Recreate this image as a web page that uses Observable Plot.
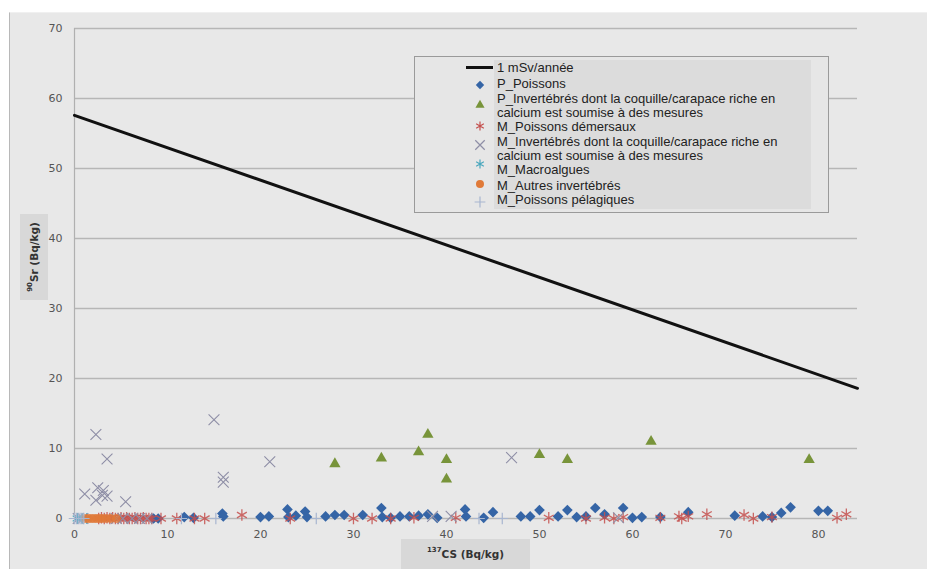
<!DOCTYPE html>
<html><head><meta charset="utf-8">
<script src="https://cdn.jsdelivr.net/npm/d3@7"></script>
<script src="https://cdn.jsdelivr.net/npm/@observablehq/plot@0.6"></script>
<style>
html,body{margin:0;padding:0;background:#fff;width:927px;height:569px;overflow:hidden;font-family:"DejaVu Sans",sans-serif}
#bg{position:absolute;left:9px;top:12px;width:918px;height:557px;background:#e8e8e8;border-left:1px solid #b8b8b8;border-top:1px solid #f0f0f0}
#chart{position:absolute;left:0;top:0}
.lab{position:absolute;background:#d8d8d8;color:#333;font-weight:bold;font-size:10.5px;display:flex;align-items:center;justify-content:center}
.lab sup{font-size:7px;vertical-align:top;position:relative;top:-2px}
#ylab{left:20px;top:214px;width:28px;height:86px}
#ylab span{transform:rotate(-90deg);white-space:nowrap;display:block}
#xlab{left:401px;top:539px;width:129px;height:30px}
#legend{position:absolute;left:414px;top:56px;width:413px;height:155px;background:#e6e6e6;border:1px solid #9a9a9a}
#legend .txtbg{position:absolute;left:79px;top:3px;width:317px;height:149px;background:#dcdcdc}
#legend .t{position:absolute;left:82px;font-family:"Liberation Sans",Arial,sans-serif;font-size:13px;color:#222;white-space:nowrap;line-height:14px}
#legsym{position:absolute;left:0;top:0}
</style></head>
<body>
<div id="bg"></div>
<div id="chart"></div>
<div class="lab" id="ylab"><span><sup>90</sup>Sr (Bq/kg)</span></div>
<div class="lab" id="xlab"><span><sup>137</sup>CS (Bq/kg)</span></div>
<div id="legend"><div class="txtbg"></div><svg id="legsym" width="413" height="155"></svg></div>
<script>
// ---- data ----
const xTicks = [0, 10, 20, 30, 40, 50, 60, 70, 80];
const yTicks = [0, 10, 20, 30, 40, 50, 60, 70];

const limitX = [0, 84.2];
const limitY = [57.6, 18.6];

const pPoissonsX = [8.5, 9.0, 11.8, 12.8, 15.9, 16.0, 20, 20.9, 22.9, 23.0, 23.8, 24.8, 25.0, 27, 28, 29, 31, 33, 33.1, 34, 35, 36, 37, 38, 39, 42, 42.1, 44, 45, 48, 49, 50, 52, 53, 54, 55, 56, 57, 59, 60, 61, 63, 66, 71, 74, 75, 76, 77, 80, 81];
const pPoissonsY = [0, 0, 0.2, 0.1, 0.7, 0.3, 0.2, 0.3, 1.3, 0.2, 0.4, 1.0, 0.2, 0.3, 0.5, 0.5, 0.5, 1.5, 0.2, 0.1, 0.3, 0.3, 0.4, 0.6, 0.1, 1.3, 0.3, 0.1, 0.9, 0.3, 0.3, 1.2, 0.3, 1.2, 0.2, 0.3, 1.5, 0.6, 1.5, 0.1, 0.2, 0.2, 0.9, 0.4, 0.3, 0.2, 0.8, 1.6, 1.1, 1.1];

const pInvertX = [28, 33, 37, 38, 40, 40, 50, 53, 62, 79];
const pInvertY = [7.8, 8.6, 9.5, 12.0, 8.4, 5.6, 9.1, 8.4, 11.0, 8.4];

const mDemersauxX = [2.6, 2.9, 3.2, 3.5, 3.8, 4.1, 4.4, 4.7, 5.0, 5.3, 5.6, 5.9, 6.2, 6.5, 6.8, 7.1, 7.4, 7.7, 8.0, 8.3, 9.3, 11, 12.9, 14, 18, 23.2, 30, 32, 34, 36.5, 41, 51, 55, 57, 58, 59, 63, 65, 65.3, 66, 68, 72, 73, 75, 82, 83];
const mDemersauxY = [0, 0.1, 0, 0.1, 0, 0.1, 0, 0, 0.1, 0, 0.1, 0, 0, 0.1, 0, 0, 0.1, 0, 0, 0, 0, 0, 0, 0, 0.5, 0, 0, 0, 0, 0.1, 0.1, 0.1, 0, 0.1, 0, 0.2, 0.1, 0.3, 0, 0.3, 0.6, 0.5, 0, 0.2, 0.1, 0.6];

const mInvertX = [1.1, 2.3, 2.5, 3.0, 3.5, 2.3, 3.1, 3.5, 5.5, 15, 16, 16, 21, 47, 0.4, 0.9, 4.5, 5.2, 6.2, 7.0, 7.8, 38.5, 40.5, 58.5];
const mInvertY = [3.5, 12.0, 4.4, 3.3, 3.2, 2.6, 4.0, 8.5, 2.4, 14.1, 5.9, 5.2, 8.1, 8.7, 0, 0, 0, 0, 0, 0, 0, 0.3, 0.3, 0.1];

const mMacroX = [0.3, 0.8, 1.3];
const mMacroY = [0, 0, 0];

const mAutresX = [1.2, 1.5, 1.8, 2.1, 2.4, 2.7, 3.0, 3.4, 3.9, 4.5];
const mAutresY = [0, 0, 0, 0, 0, 0, 0, 0, 0, 0];

const mPelagX = [0, 0.2, 0.4, 0.6, 0.8, 1.0, 11.5, 15.2, 26, 43.5, 46];
const mPelagY = [0, 0, 0, 0, 0, 0, 0, 0, 0, 0, 0];

const seriesNames = ["1 mSv/année", "P_Poissons", "P_Invertébrés dont la coquille/carapace riche en", "calcium est soumise à des mesures", "M_Poissons démersaux", "M_Invertébrés dont la coquille/carapace riche en", "calcium est soumise à des mesures", "M_Macroalgues", "M_Autres invertébrés", "M_Poissons pélagiques"];

// ---- styles ----
const C = {
  line: "#111", pPois: "#3565a6", pInv: "#78943a", mDem: "#c4504e", mInv: "#8e8ea6",
  mMac: "#4aa7bd", mAut: "#e07a38", mPel: "#a8b6d0"
};
const zip = (xs, ys) => xs.map((x, i) => ({x, y: ys[i]}));

const chart = Plot.plot({
  width: 927, height: 569,
  marginLeft: 74, marginRight: 70, marginTop: 28, marginBottom: 51,
  x: {domain: [0, 84.2]},
  y: {domain: [0, 70]},
  style: {background: "transparent", fontFamily: "DejaVu Sans, sans-serif", fontSize: "11px", color: "#555"},
  marks: [
    Plot.gridY(yTicks, {stroke: "#b6b6b6", strokeOpacity: 1, strokeWidth: 1.5}),
    Plot.ruleX([0], {stroke: "#b0b0b0", strokeWidth: 1.2}),
    Plot.axisY(yTicks, {tickSize: 0, tickPadding: 12, label: null}),
    Plot.axisX(xTicks, {tickSize: 0, tickPadding: 12, label: null}),
    Plot.line(zip(limitX, limitY), {x: "x", y: "y", stroke: C.line, strokeWidth: 3}),
    Plot.dot(zip(pPoissonsX, pPoissonsY), {x: "x", y: "y", symbol: "diamond2", r: 4.8, fill: C.pPois, stroke: "none"}),
    Plot.dot(zip(pInvertX, pInvertY), {x: "x", y: "y", symbol: "triangle", r: 4.2, fill: C.pInv, stroke: "none"}),
    Plot.dot(zip(mDemersauxX, mDemersauxY), {x: "x", y: "y", symbol: "asterisk", r: 5.4, stroke: C.mDem, strokeWidth: 1.3, strokeOpacity: 0.85}),
    Plot.dot(zip(mInvertX, mInvertY), {x: "x", y: "y", symbol: "times", r: 5, stroke: C.mInv, strokeWidth: 1.1}),
    Plot.dot(zip(mMacroX, mMacroY), {x: "x", y: "y", symbol: "asterisk", r: 5, stroke: C.mMac, strokeWidth: 1.2}),
    Plot.dot(zip(mAutresX, mAutresY), {x: "x", y: "y", symbol: "circle", r: 4.5, fill: C.mAut, stroke: "none", fillOpacity: 0.75}),
    Plot.dot(zip(mPelagX, mPelagY), {x: "x", y: "y", symbol: "plus", r: 3.8, stroke: C.mPel, strokeWidth: 1.2})
  ]
});
document.getElementById("chart").appendChild(chart);

// ---- legend ----
const leg = document.getElementById("legend");
const lineTops = [10.5, 27, 41.5, 55.5, 70, 84.5, 98.5, 113, 128.5, 142.5];
seriesNames.forEach((t, i) => {
  const d = document.createElement("div");
  d.className = "t";
  d.style.top = (lineTops[i] - 7) + "px";
  d.textContent = t;
  leg.appendChild(d);
});
const sym = d3.select("#legsym");
const sx = 65;
sym.append("line").attr("x1", 51).attr("x2", 78).attr("y1", 10.5).attr("y2", 10.5).attr("stroke", C.line).attr("stroke-width", 3);
const symDefs = [
  {type: d3.symbolDiamond2, y: 28, size: 45, fill: C.pPois},
  {type: d3.symbolTriangle, y: 48, size: 36, fill: C.pInv},
  {type: d3.symbolAsterisk, y: 69, size: 55, stroke: C.mDem},
  {type: d3.symbolTimes, y: 88, size: 60, stroke: C.mInv},
  {type: d3.symbolAsterisk, y: 107, size: 55, stroke: C.mMac},
  {type: d3.symbolCircle, y: 127, size: 50, fill: C.mAut},
  {type: d3.symbolPlus, y: 145, size: 40, stroke: C.mPel}
];
symDefs.forEach(s => {
  sym.append("path").attr("d", d3.symbol(s.type, s.size)())
    .attr("transform", `translate(${sx},${s.y})`)
    .attr("fill", s.fill || "none").attr("stroke", s.stroke || "none").attr("stroke-width", 1.2);
});
</script>
</body></html>
